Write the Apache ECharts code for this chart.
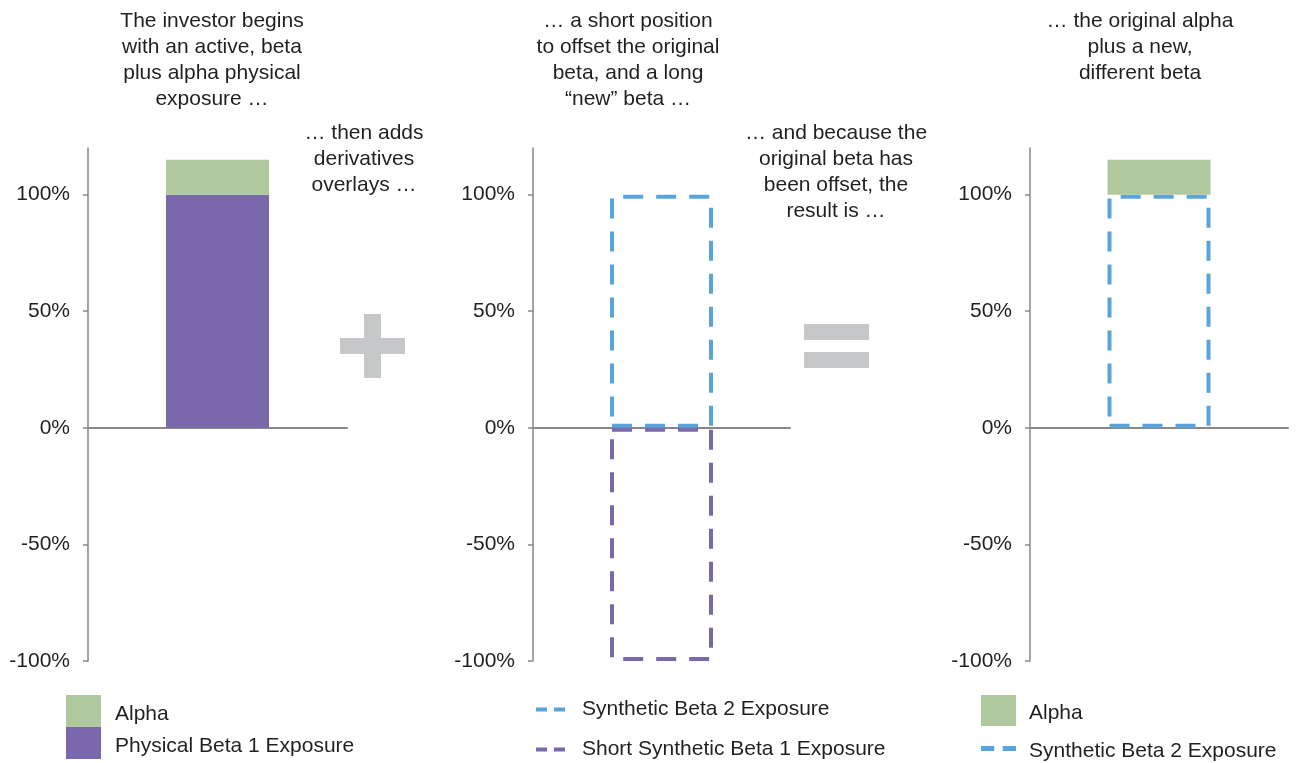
<!DOCTYPE html>
<html>
<head>
<meta charset="utf-8">
<script src="https://cdn.jsdelivr.net/npm/echarts@6/dist/echarts.min.js"></script>
<style>
  html, body { margin: 0; padding: 0; background: #fff; }
  #chart { width: 1298px; height: 763px; }
</style>
</head>
<body>
<div id="chart"></div>
<script>
// Three panels: physical exposure, derivative overlays, resulting exposure
const panelCategories = [['Physical'], ['Overlay'], ['Result']];
const alphaValues = [15];
const physicalBeta1 = [100];
const syntheticBeta2 = [100];
const shortSyntheticBeta1 = [-100];
const tickValues = [-100, -50, 0, 50, 100];
const axisMin = -100;
const axisMax = 120;

const notes = [
  { text: 'The investor begins\nwith an active, beta\nplus alpha physical\nexposure …', x: 212, y: 8 },
  { text: '… then adds\nderivatives\noverlays …', x: 364, y: 120 },
  { text: '… a short position\nto offset the original\nbeta, and a long\n“new” beta …', x: 628, y: 8 },
  { text: '… and because the\noriginal beta has\nbeen offset, the\nresult is …', x: 836, y: 120 },
  { text: '… the original alpha\nplus a new,\ndifferent beta', x: 1140, y: 8 }
];

const FONT = 'Liberation Sans, Arial, sans-serif';
const TEXT = '#231F20';
const AXIS = '#888888';
const GREEN = '#B0C89E';
const PURPLE = '#7A68AD';
const BLUE = '#5AA4DC';
const SIGN = '#C6C7C8';
const DASH = [20, 13];
const dashIcon = 'path://M0,0h11v4h-11z M18,0h11v4h-11z';

const grids = [
  { left: 88, top: 148, width: 259, height: 513 },
  { left: 533, top: 148, width: 257, height: 513 },
  { left: 1030, top: 148, width: 258, height: 513 }
];

const xAxes = grids.map((g, i) => ({
  type: 'category',
  gridIndex: i,
  data: panelCategories[i],
  axisLine: { show: true, onZero: true, lineStyle: { color: AXIS, width: 2 } },
  axisTick: { show: false },
  axisLabel: { show: false },
  splitLine: { show: false }
}));

const yAxes = grids.map((g, i) => ({
  type: 'value',
  gridIndex: i,
  min: axisMin,
  max: axisMax,
  axisLine: { show: true, lineStyle: { color: AXIS, width: 1.5 } },
  axisTick: { show: true, length: 5, customValues: tickValues, lineStyle: { color: AXIS, width: 1.5 } },
  axisLabel: {
    customValues: tickValues,
    formatter: '{value}%',
    margin: 18,
    fontSize: 21,
    fontFamily: FONT,
    color: TEXT
  },
  splitLine: { show: false }
}));

function dashedBar(name, data, color, idx, stack) {
  return {
    type: 'bar', name, data, stack,
    xAxisIndex: idx, yAxisIndex: idx,
    barWidth: 103,
    itemStyle: { color: 'rgba(0,0,0,0)', borderColor: color, borderWidth: 4, borderType: DASH },
    emphasis: { disabled: true }
  };
}
function solidBar(name, data, color, idx, stack) {
  return {
    type: 'bar', name, data, stack,
    xAxisIndex: idx, yAxisIndex: idx,
    barWidth: 103,
    itemStyle: { color },
    emphasis: { disabled: true }
  };
}

const series = [
  solidBar('Physical Beta 1 Exposure', physicalBeta1, PURPLE, 0, 'start'),
  solidBar('Alpha', alphaValues, GREEN, 0, 'start'),
  dashedBar('Synthetic Beta 2 Exposure', syntheticBeta2, BLUE, 1, 'overlay'),
  dashedBar('Short Synthetic Beta 1 Exposure', shortSyntheticBeta1, PURPLE, 1, 'overlay'),
  dashedBar('Synthetic Beta 2 Exposure', syntheticBeta2, BLUE, 2, 'result'),
  solidBar('Alpha', alphaValues, GREEN, 2, 'result')
];

// Legend labels use a rich style so the text can sit a little low beside its key
function legendLabel(padLeft, padTop) {
  return {
    fontSize: 21, fontFamily: FONT, color: TEXT,
    rich: {
      t: { fontSize: 21, fontFamily: FONT, color: TEXT, lineHeight: 24, padding: [padTop, 0, 0, padLeft] }
    }
  };
}
const richName = name => '{t|' + name + '}';

const legends = [
  {
    left: 66, top: 695, height: 120, width: 400, padding: 0,
    orient: 'vertical', selectedMode: false,
    itemWidth: 35, itemHeight: 32, itemGap: 0,
    formatter: richName,
    textStyle: legendLabel(9, 6),
    data: [
      { name: 'Alpha', icon: 'rect', itemStyle: { color: GREEN, borderWidth: 0 } },
      { name: 'Physical Beta 1 Exposure', icon: 'rect', itemStyle: { color: PURPLE, borderWidth: 0 } }
    ]
  },
  {
    left: 536, top: 699, height: 120, width: 420, padding: 0,
    orient: 'vertical', selectedMode: false,
    itemWidth: 29, itemHeight: 4, itemGap: 19,
    formatter: richName,
    textStyle: legendLabel(12, 0),
    data: [
      { name: 'Synthetic Beta 2 Exposure', icon: dashIcon, itemStyle: { color: BLUE, borderWidth: 0 } },
      { name: 'Short Synthetic Beta 1 Exposure', icon: dashIcon, itemStyle: { color: PURPLE, borderWidth: 0 } }
    ]
  },
  {
    left: 981, top: 695, height: 120, width: 400, padding: 0,
    orient: 'vertical', selectedMode: false,
    itemWidth: 35, itemHeight: 31, itemGap: 9,
    formatter: richName,
    textStyle: legendLabel(8, 6),
    data: [
      { name: 'Alpha', icon: 'rect', itemStyle: { color: GREEN, borderWidth: 0 } },
      { name: 'Synthetic Beta 2 Exposure', icon: dashIcon, itemStyle: { color: BLUE, borderWidth: 0 } }
    ]
  }
];

// Plus and equals signs between the panels, plus the captions
const graphics = [
  { type: 'rect', shape: { x: 340, y: 338, width: 65, height: 16 }, style: { fill: SIGN } },
  { type: 'rect', shape: { x: 364, y: 314, width: 17, height: 64 }, style: { fill: SIGN } },
  { type: 'rect', shape: { x: 804, y: 324, width: 65, height: 16 }, style: { fill: SIGN } },
  { type: 'rect', shape: { x: 804, y: 352, width: 65, height: 16 }, style: { fill: SIGN } }
].concat(notes.map(n => ({
  type: 'text', x: n.x, y: n.y,
  style: {
    text: n.text, textAlign: 'center', textVerticalAlign: 'top',
    font: '21px ' + FONT, lineHeight: 26, fill: TEXT
  }
})));

const chart = echarts.init(document.getElementById('chart'), null, { renderer: 'canvas' });
chart.setOption({
  animation: false,
  backgroundColor: '#ffffff',
  grid: grids,
  xAxis: xAxes,
  yAxis: yAxes,
  legend: legends,
  series,
  graphic: graphics
});
</script>
</body>
</html>
